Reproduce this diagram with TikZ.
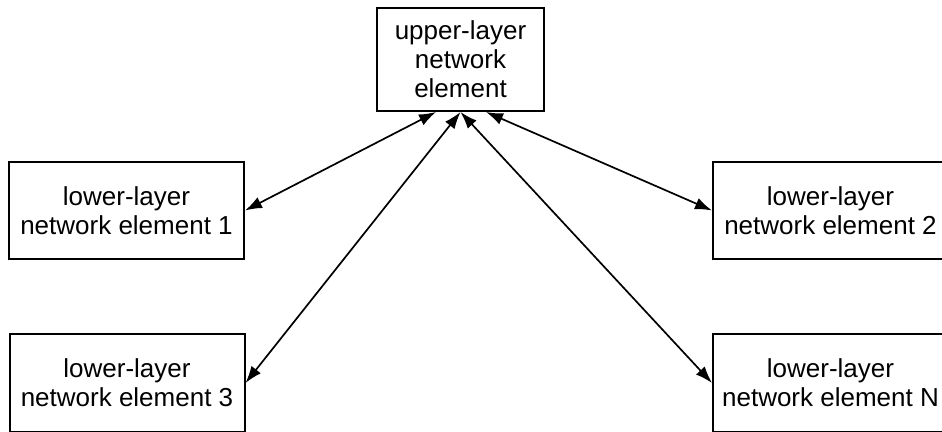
\documentclass[tikz,border=0pt]{standalone}
\usepackage{fontspec}
\setmainfont{Liberation Sans}
\usetikzlibrary{arrows.meta}

\begin{document}
\begin{tikzpicture}[
  x=1pt, y=1pt,
  element node/.style={
    draw, rectangle, align=center, inner sep=0pt, line width=2pt,
    font=\fontsize{26}{29}\selectfont,
  },
  upper node/.style={
    element node, minimum width=167pt, minimum height=103pt,
  },
  lower node/.style={
    element node, minimum width=235pt, minimum height=97pt,
  },
  link/.style={
    line width=1.7pt,
    {Latex[length=17pt, width=12pt]}-{Latex[length=17pt, width=12pt]},
  }
  ]
  \useasboundingbox (0,0) rectangle (942,431);

  \node[upper node] (upper) at (460.5,371.5) {upper-layer\\network\\element};
  \node[lower node] (low1) at (126.5,220.5) {lower-layer\\network element 1};
  \node[lower node] (low2) at (830.5,220.5) {lower-layer\\network element 2};
  \node[lower node] (low3) at (127,48) {lower-layer\\network element 3};
  \node[lower node] (lowN) at (830.5,48) {lower-layer\\network element N};

  \draw[link] (low1.east) -- ([xshift=60pt]upper.south west);
  \draw[link] (low3.east) -- (upper.south);
  \draw[link] (lowN.west) -- (upper.south);
  \draw[link] (low2.west) -- ([xshift=-59pt]upper.south east);
\end{tikzpicture}
\end{document}
